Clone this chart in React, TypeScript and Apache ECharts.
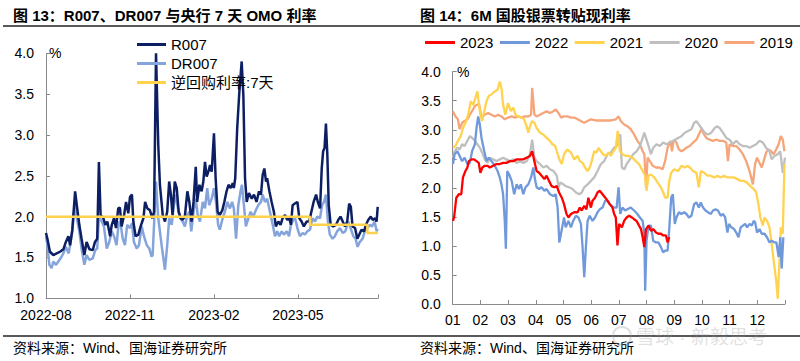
import React, { useEffect, useRef } from 'react';
import * as echarts from 'echarts';

const FONT = '"Liberation Sans", Arial, "Noto Sans CJK SC", sans-serif';

// ---------- Left chart: x = months since 2022-08-01 ----------
const LEFT_TICK_LABELS = ['2022-08', '2022-11', '2023-02', '2023-05'];
const LEFT_SERIES_NAMES = ['R007', 'DR007', '逆回购利率:7天'];

const R007: [number, number][] = [
  [0.00, 1.80], [0.05, 1.73], [0.14, 1.57], [0.26, 1.53], [0.38, 1.55], [0.50, 1.57], [0.62, 1.60],
  [0.71, 1.69], [0.80, 1.76], [0.86, 1.65], [0.94, 1.84], [1.04, 2.31], [1.10, 2.14], [1.19, 1.90],
  [1.27, 1.73], [1.37, 1.53], [1.45, 1.69], [1.55, 1.60], [1.67, 1.59], [1.75, 1.69], [1.83, 1.73],
  [1.89, 2.67], [1.95, 2.02], [2.05, 1.98], [2.12, 1.90], [2.19, 1.94], [2.29, 1.76], [2.35, 1.90],
  [2.43, 1.98], [2.50, 1.86], [2.58, 2.10], [2.64, 2.11], [2.70, 1.88], [2.79, 2.02], [2.86, 2.18],
  [2.94, 2.04], [3.00, 2.24], [3.07, 2.27], [3.12, 1.94], [3.20, 1.76], [3.30, 1.78], [3.38, 1.88],
  [3.48, 1.98], [3.54, 2.18], [3.62, 2.10], [3.71, 2.08], [3.80, 1.98], [3.86, 2.06], [3.93, 4.00],
  [4.01, 2.88], [4.07, 2.39], [4.17, 2.02], [4.25, 1.94], [4.33, 2.06], [4.40, 2.43], [4.46, 2.27],
  [4.52, 2.02], [4.60, 2.43], [4.67, 2.35], [4.74, 2.06], [4.81, 1.98], [4.88, 1.96], [4.96, 2.00],
  [5.05, 2.31], [5.12, 2.18], [5.20, 1.94], [5.27, 2.18], [5.35, 2.61], [5.40, 2.18], [5.48, 2.39],
  [5.56, 2.31], [5.62, 2.43], [5.68, 2.67], [5.74, 2.49], [5.80, 2.55], [5.86, 2.63], [5.92, 2.55],
  [6.00, 3.02], [6.06, 2.47], [6.13, 2.06], [6.21, 2.02], [6.30, 2.08], [6.37, 2.18], [6.45, 2.31],
  [6.52, 2.39], [6.60, 2.35], [6.67, 2.41], [6.71, 2.35], [6.76, 2.47], [6.83, 3.08], [6.90, 3.49],
  [6.99, 3.90], [7.05, 3.49], [7.11, 2.47], [7.17, 2.18], [7.25, 2.29], [7.35, 2.22], [7.43, 2.27],
  [7.52, 2.18], [7.61, 2.31], [7.68, 2.27], [7.74, 2.51], [7.80, 2.59], [7.86, 2.43], [7.90, 2.47],
  [7.98, 2.31], [8.06, 2.18], [8.14, 2.06], [8.21, 1.88], [8.30, 1.94], [8.38, 1.90], [8.45, 1.98],
  [8.54, 2.02], [8.62, 1.96], [8.69, 1.98], [8.75, 1.90], [8.81, 2.14], [8.89, 2.16], [8.98, 2.18],
  [9.05, 1.98], [9.13, 1.94], [9.21, 1.88], [9.31, 1.94], [9.40, 1.94], [9.48, 2.06], [9.56, 2.18],
  [9.65, 2.27], [9.71, 2.18], [9.79, 2.10], [9.85, 2.59], [9.90, 2.80], [9.95, 2.84], [10.00, 3.14],
  [10.05, 2.76], [10.10, 2.14], [10.17, 1.90], [10.26, 1.88], [10.36, 1.90], [10.44, 1.96], [10.52, 2.00],
  [10.60, 1.94], [10.68, 1.88], [10.76, 1.94], [10.83, 2.16], [10.89, 2.12], [10.95, 1.88], [11.04, 1.86],
  [11.12, 1.73], [11.19, 1.78], [11.27, 1.84], [11.36, 1.82], [11.43, 1.90], [11.51, 1.96], [11.60, 2.00],
  [11.67, 1.96], [11.75, 1.98], [11.81, 1.94], [11.85, 2.12],
];

const DR007: [number, number][] = [
  [0.00, 1.76], [0.05, 1.65], [0.12, 1.41], [0.20, 1.37], [0.26, 1.45], [0.36, 1.41], [0.44, 1.45],
  [0.52, 1.49], [0.62, 1.55], [0.71, 1.63], [0.81, 1.55], [0.88, 1.69], [0.94, 1.82], [1.02, 2.14],
  [1.10, 1.98], [1.19, 1.82], [1.27, 1.61], [1.37, 1.41], [1.45, 1.53], [1.55, 1.47], [1.67, 1.49],
  [1.76, 1.59], [1.83, 1.61], [1.89, 2.00], [1.99, 1.94], [2.07, 1.88], [2.17, 1.61], [2.26, 1.69],
  [2.35, 1.82], [2.43, 1.76], [2.52, 1.65], [2.60, 1.94], [2.67, 1.90], [2.74, 1.73], [2.82, 1.65],
  [2.90, 1.90], [3.00, 1.86], [3.07, 1.92], [3.14, 1.69], [3.24, 1.61], [3.32, 1.65], [3.42, 1.88],
  [3.50, 1.76], [3.60, 1.65], [3.69, 1.61], [3.77, 1.51], [3.81, 1.53], [3.93, 2.43], [4.01, 1.98],
  [4.13, 1.65], [4.25, 1.35], [4.33, 1.65], [4.40, 1.98], [4.49, 1.90], [4.57, 2.14], [4.64, 2.27],
  [4.73, 2.06], [4.81, 1.98], [4.88, 1.94], [4.96, 1.88], [5.05, 2.02], [5.12, 2.06], [5.19, 1.82],
  [5.27, 2.06], [5.35, 2.22], [5.42, 2.02], [5.50, 1.94], [5.60, 2.18], [5.68, 2.10], [5.76, 2.35],
  [5.83, 2.14], [5.92, 2.22], [6.00, 2.35], [6.07, 2.18], [6.15, 1.90], [6.21, 1.84], [6.31, 1.98],
  [6.39, 2.06], [6.48, 2.18], [6.57, 2.10], [6.65, 2.18], [6.71, 2.10], [6.79, 1.73], [6.87, 2.14],
  [6.95, 2.31], [7.00, 2.39], [7.07, 2.14], [7.14, 1.88], [7.23, 1.98], [7.31, 2.06], [7.40, 2.00],
  [7.50, 2.08], [7.58, 2.14], [7.68, 2.18], [7.74, 2.27], [7.82, 2.18], [7.90, 2.22], [8.00, 2.06],
  [8.10, 1.90], [8.18, 1.76], [8.26, 1.82], [8.33, 1.76], [8.42, 1.82], [8.50, 1.78], [8.60, 1.82],
  [8.68, 1.76], [8.75, 1.90], [8.83, 1.96], [8.90, 1.98], [8.98, 1.86], [9.07, 1.76], [9.17, 1.80],
  [9.25, 1.78], [9.33, 1.82], [9.43, 1.84], [9.52, 1.98], [9.61, 1.94], [9.69, 2.00], [9.79, 1.98],
  [9.86, 2.14], [9.93, 2.18], [10.00, 2.27], [10.07, 1.94], [10.14, 1.78], [10.24, 1.73], [10.32, 1.76],
  [10.40, 1.82], [10.50, 1.86], [10.60, 1.80], [10.69, 1.82], [10.80, 1.94], [10.88, 1.86], [10.98, 1.76],
  [11.06, 1.73], [11.13, 1.63], [11.21, 1.69], [11.31, 1.73], [11.39, 1.82], [11.48, 1.86], [11.57, 1.90],
  [11.65, 1.88], [11.74, 1.94], [11.81, 1.82], [11.85, 1.85],
];

const OMO7D: [number, number][] = [
  [0.00, 2.0], [9.43, 2.0], [9.43, 1.9], [11.48, 1.9], [11.48, 1.8], [11.86, 1.8],
];

// ---------- Right chart: x = month of year (1 = 1 Jan) ----------
const RIGHT_TICK_LABELS = ['01', '02', '03', '04', '05', '06', '07', '08', '09', '10', '11', '12'];
const YEARS = ['2023', '2022', '2021', '2020', '2019'];

const Y2023: [number, number][] = [
  [1.01, 1.43], [1.05, 1.49], [1.13, 1.83], [1.22, 1.89], [1.31, 1.89], [1.37, 2.18], [1.46, 2.29],
  [1.53, 2.35], [1.58, 2.46], [1.68, 2.49], [1.77, 2.49], [1.86, 2.46], [1.94, 2.43], [2.00, 2.26],
  [2.07, 2.35], [2.16, 2.38], [2.26, 2.38], [2.34, 2.35], [2.46, 2.38], [2.58, 2.41], [2.70, 2.41],
  [2.82, 2.43], [2.94, 2.43], [3.07, 2.46], [3.19, 2.46], [3.31, 2.49], [3.43, 2.49], [3.55, 2.49],
  [3.67, 2.52], [3.79, 2.55], [3.87, 2.63], [3.95, 2.46], [4.03, 2.29], [4.12, 2.26], [4.21, 2.21],
  [4.31, 2.15], [4.39, 2.21], [4.48, 2.12], [4.57, 2.03], [4.67, 2.01], [4.76, 2.03], [4.84, 1.92],
  [4.94, 1.83], [5.02, 1.72], [5.11, 1.55], [5.18, 1.49], [5.27, 1.55], [5.39, 1.58], [5.51, 1.58],
  [5.59, 1.66], [5.66, 1.61], [5.75, 1.69], [5.83, 1.63], [5.90, 1.83], [5.99, 1.66], [6.05, 1.78],
  [6.14, 1.83], [6.23, 1.92], [6.31, 1.95], [6.41, 1.89], [6.51, 1.83], [6.59, 1.78], [6.67, 1.72],
  [6.77, 1.66], [6.83, 1.55], [6.89, 1.49], [6.95, 1.01], [7.01, 1.38], [7.11, 1.32], [7.19, 1.43],
  [7.28, 1.49], [7.37, 1.52], [7.47, 1.49], [7.55, 1.46], [7.64, 1.43], [7.73, 1.35], [7.80, 1.29],
  [7.86, 1.15], [7.92, 0.98], [7.98, 1.29], [8.07, 1.35], [8.16, 1.26], [8.24, 1.29], [8.34, 1.23],
  [8.43, 1.21], [8.52, 1.21], [8.60, 1.18], [8.70, 1.18], [8.76, 1.06], [8.82, 1.15],
];

const Y2022: [number, number][] = [
  [1.01, 2.41], [1.07, 2.58], [1.17, 2.63], [1.25, 2.55], [1.34, 2.46], [1.43, 2.52], [1.53, 2.41],
  [1.62, 2.43], [1.70, 2.63], [1.80, 2.75], [1.86, 3.03], [1.92, 3.23], [1.98, 3.09], [2.04, 2.86],
  [2.14, 2.63], [2.22, 2.46], [2.30, 2.52], [2.40, 2.46], [2.52, 2.38], [2.62, 2.29], [2.70, 2.18],
  [2.76, 2.06], [2.82, 1.89], [2.88, 1.43], [2.92, 0.95], [2.97, 2.29], [3.04, 2.23], [3.13, 2.12],
  [3.22, 1.89], [3.31, 2.06], [3.39, 1.98], [3.46, 2.06], [3.55, 1.89], [3.63, 2.01], [3.73, 2.06],
  [3.83, 2.18], [3.91, 2.35], [3.97, 2.15], [4.03, 2.01], [4.12, 1.98], [4.21, 2.01], [4.31, 1.95],
  [4.39, 1.98], [4.51, 1.89], [4.64, 1.86], [4.72, 1.89], [4.79, 1.66], [4.85, 1.06], [4.91, 1.21],
  [5.02, 1.49], [5.08, 1.32], [5.18, 1.43], [5.27, 1.32], [5.35, 1.43], [5.45, 1.52], [5.54, 1.49],
  [5.63, 1.38], [5.69, 0.98], [5.75, 0.46], [5.81, 0.98], [5.87, 1.43], [5.95, 1.52], [6.05, 1.43],
  [6.14, 1.49], [6.23, 1.58], [6.31, 1.63], [6.41, 1.66], [6.51, 1.78], [6.59, 1.78], [6.67, 1.72],
  [6.75, 1.69], [6.83, 1.66], [6.92, 1.66], [6.99, 2.01], [7.05, 1.55], [7.13, 1.66], [7.23, 1.61],
  [7.31, 1.63], [7.43, 1.66], [7.55, 1.61], [7.67, 1.55], [7.76, 1.49], [7.86, 1.43], [7.92, 1.21],
  [7.95, 0.23], [8.00, 1.09], [8.07, 1.35], [8.16, 1.35], [8.24, 1.09], [8.34, 1.06], [8.43, 1.06],
  [8.52, 0.98], [8.60, 0.89], [8.67, 0.92], [8.76, 0.92], [8.82, 1.29], [8.89, 1.83], [8.95, 1.89],
  [9.02, 1.38], [9.08, 1.49], [9.17, 1.58], [9.26, 1.55], [9.36, 1.58], [9.44, 1.55], [9.53, 1.49],
  [9.62, 1.52], [9.72, 1.72], [9.80, 1.75], [9.89, 1.66], [9.96, 1.75], [10.04, 1.66], [10.13, 1.61],
  [10.22, 1.58], [10.32, 1.55], [10.40, 1.61], [10.49, 1.63], [10.58, 1.61], [10.68, 1.52], [10.76, 1.55],
  [10.84, 1.49], [10.92, 1.23], [10.98, 1.38], [11.06, 1.32], [11.16, 1.29], [11.24, 1.23], [11.32, 1.15],
  [11.40, 1.32], [11.48, 1.35], [11.56, 1.38], [11.63, 1.32], [11.72, 1.38], [11.80, 1.35], [11.87, 1.43],
  [11.92, 1.41], [11.99, 1.23], [12.08, 1.29], [12.16, 1.21], [12.26, 1.21], [12.35, 1.15], [12.44, 1.06],
  [12.52, 1.09], [12.62, 1.06], [12.69, 1.06], [12.77, 0.81], [12.83, 1.15], [12.88, 0.61], [12.94, 1.15],
];

const Y2021: [number, number][] = [
  [1.01, 2.69], [1.10, 2.72], [1.19, 2.81], [1.29, 2.89], [1.37, 3.03], [1.46, 3.12], [1.56, 3.26],
  [1.65, 3.49], [1.74, 3.43], [1.82, 3.55], [1.89, 3.66], [1.98, 3.32], [2.06, 3.15], [2.14, 3.32],
  [2.22, 3.49], [2.30, 3.58], [2.40, 3.61], [2.52, 3.66], [2.62, 3.69], [2.70, 3.83], [2.76, 3.72],
  [2.82, 3.43], [2.90, 3.26], [3.00, 3.46], [3.10, 3.32], [3.19, 3.38], [3.27, 3.26], [3.37, 3.23],
  [3.49, 3.21], [3.58, 3.18], [3.67, 3.06], [3.73, 2.95], [3.79, 3.06], [3.87, 3.15], [3.95, 3.12],
  [4.03, 3.03], [4.15, 2.95], [4.27, 2.92], [4.39, 2.86], [4.51, 2.81], [4.60, 2.75], [4.70, 2.72],
  [4.79, 2.58], [4.88, 2.46], [4.94, 2.41], [5.02, 2.58], [5.14, 2.66], [5.27, 2.61], [5.39, 2.49],
  [5.51, 2.55], [5.59, 2.46], [5.69, 2.43], [5.78, 2.35], [5.87, 2.29], [5.95, 2.35], [6.02, 2.46],
  [6.11, 2.63], [6.19, 2.61], [6.27, 2.69], [6.35, 2.63], [6.43, 2.58], [6.53, 2.55], [6.63, 2.61],
  [6.71, 2.55], [6.80, 2.63], [6.89, 2.69], [6.96, 2.98], [7.04, 2.63], [7.13, 2.58], [7.25, 2.55],
  [7.37, 2.55], [7.49, 2.52], [7.61, 2.46], [7.73, 2.41], [7.86, 2.29], [7.95, 2.21], [8.00, 1.95],
  [8.07, 2.21], [8.16, 2.23], [8.28, 2.18], [8.40, 2.09], [8.52, 2.01], [8.60, 1.92], [8.67, 1.83],
  [8.76, 1.83], [8.82, 2.12], [8.89, 2.26], [9.00, 2.32], [9.14, 2.29], [9.26, 2.38], [9.38, 2.35],
  [9.48, 2.38], [9.56, 2.35], [9.68, 2.29], [9.80, 2.26], [9.89, 2.01], [9.96, 2.29], [10.08, 2.26],
  [10.20, 2.21], [10.32, 2.21], [10.44, 2.18], [10.56, 2.21], [10.68, 2.18], [10.80, 2.21], [10.92, 2.18],
  [11.04, 2.18], [11.16, 2.18], [11.28, 2.15], [11.40, 2.12], [11.51, 2.12], [11.63, 2.09], [11.75, 2.03],
  [11.87, 1.98], [11.96, 1.92], [12.04, 1.72], [12.11, 1.49], [12.20, 1.35], [12.26, 1.49], [12.35, 1.43],
  [12.44, 1.32], [12.52, 1.03], [12.59, 0.75], [12.68, 0.41], [12.74, 0.09], [12.80, 0.75], [12.85, 1.32],
  [12.92, 1.21], [12.98, 2.41],
];

const Y2020: [number, number][] = [
  [1.01, 2.52], [1.07, 2.63], [1.17, 2.69], [1.25, 2.66], [1.34, 2.75], [1.43, 2.72], [1.53, 2.81],
  [1.62, 2.89], [1.70, 2.86], [1.80, 2.81], [1.89, 2.75], [1.98, 2.69], [2.06, 2.61], [2.16, 2.49],
  [2.26, 2.43], [2.34, 2.52], [2.46, 2.49], [2.58, 2.46], [2.70, 2.49], [2.82, 2.52], [2.94, 2.49],
  [3.07, 2.46], [3.19, 2.49], [3.31, 2.43], [3.43, 2.46], [3.55, 2.43], [3.67, 2.46], [3.79, 2.58],
  [3.87, 2.83], [3.95, 2.52], [4.03, 2.46], [4.15, 2.41], [4.27, 2.35], [4.39, 2.38], [4.51, 2.32],
  [4.64, 2.29], [4.76, 2.21], [4.82, 2.01], [4.88, 2.09], [5.00, 2.06], [5.08, 2.03], [5.20, 2.01],
  [5.33, 1.98], [5.45, 1.92], [5.57, 1.89], [5.66, 1.92], [5.75, 2.01], [5.87, 2.06], [5.99, 2.12],
  [6.11, 2.18], [6.23, 2.29], [6.35, 2.41], [6.47, 2.46], [6.59, 2.58], [6.71, 2.61], [6.83, 2.69],
  [6.92, 2.72], [6.99, 2.86], [7.05, 2.92], [7.11, 2.35], [7.20, 2.32], [7.28, 2.41], [7.40, 2.49],
  [7.52, 2.58], [7.64, 2.63], [7.76, 2.72], [7.84, 2.83], [7.92, 2.95], [8.00, 2.83], [8.09, 2.69],
  [8.16, 2.58], [8.24, 2.69], [8.36, 2.75], [8.48, 2.72], [8.60, 2.78], [8.72, 2.75], [8.84, 2.78],
  [8.96, 2.81], [9.14, 2.86], [9.26, 2.89], [9.38, 2.95], [9.50, 2.98], [9.62, 3.01], [9.72, 3.12],
  [9.80, 3.15], [9.89, 3.09], [9.98, 3.03], [10.10, 2.95], [10.22, 2.92], [10.34, 2.95], [10.46, 3.03],
  [10.56, 3.06], [10.64, 3.03], [10.76, 2.95], [10.88, 2.86], [11.00, 2.83], [11.12, 2.75], [11.24, 2.81],
  [11.36, 2.75], [11.48, 2.72], [11.60, 2.72], [11.72, 2.69], [11.84, 2.72], [11.96, 2.75], [12.08, 2.81],
  [12.20, 2.78], [12.32, 2.69], [12.44, 2.63], [12.52, 2.49], [12.62, 2.55], [12.74, 2.58], [12.83, 2.63],
  [12.92, 2.26], [13.00, 2.52],
];

const Y2019: [number, number][] = [
  [1.01, 3.32], [1.10, 3.23], [1.19, 3.18], [1.25, 3.01], [1.34, 3.12], [1.43, 3.15], [1.53, 3.18],
  [1.62, 3.26], [1.70, 3.32], [1.80, 3.41], [1.89, 3.43], [1.95, 3.45], [2.04, 3.21], [2.16, 3.26],
  [2.28, 3.29], [2.40, 3.26], [2.52, 3.23], [2.64, 3.26], [2.76, 3.23], [2.88, 3.18], [3.00, 3.21],
  [3.13, 3.23], [3.25, 3.21], [3.37, 3.23], [3.49, 3.21], [3.61, 3.23], [3.73, 3.23], [3.83, 3.26],
  [3.87, 3.72], [3.95, 3.26], [4.03, 3.23], [4.15, 3.26], [4.27, 3.29], [4.39, 3.32], [4.51, 3.29],
  [4.64, 3.32], [4.72, 3.35], [4.82, 3.29], [4.91, 3.21], [5.02, 3.23], [5.14, 3.23], [5.27, 3.21],
  [5.39, 3.21], [5.51, 3.18], [5.63, 3.15], [5.75, 3.12], [5.87, 3.15], [5.99, 3.18], [6.17, 3.16],
  [6.35, 3.16], [6.53, 3.16], [6.71, 3.16], [6.89, 3.18], [6.99, 3.23], [7.07, 3.15], [7.19, 3.09],
  [7.31, 3.06], [7.43, 3.01], [7.55, 2.92], [7.67, 2.81], [7.76, 2.75], [7.86, 2.63], [7.92, 2.58],
  [7.98, 2.01], [8.04, 2.52], [8.12, 2.46], [8.22, 2.38], [8.34, 2.35], [8.46, 2.35], [8.58, 2.32],
  [8.67, 2.46], [8.76, 2.69], [8.86, 2.81], [8.92, 2.63], [8.97, 2.81], [9.02, 2.81], [9.08, 2.78],
  [9.17, 2.66], [9.26, 2.63], [9.36, 2.66], [9.44, 2.69], [9.56, 2.72], [9.68, 2.78], [9.80, 2.83],
  [9.92, 2.95], [9.98, 3.01], [10.08, 2.92], [10.16, 2.86], [10.28, 2.83], [10.40, 2.81], [10.52, 2.83],
  [10.64, 2.81], [10.76, 2.81], [10.88, 2.78], [10.94, 2.46], [11.00, 2.75], [11.12, 2.72], [11.24, 2.72],
  [11.36, 2.66], [11.48, 2.58], [11.60, 2.46], [11.72, 2.29], [11.84, 2.06], [11.92, 2.41], [11.99, 2.52],
  [12.08, 2.43], [12.16, 2.35], [12.23, 2.46], [12.32, 2.61], [12.40, 2.66], [12.50, 2.63], [12.59, 2.58],
  [12.68, 2.66], [12.77, 2.75], [12.85, 2.89], [12.92, 2.83], [12.98, 2.63],
];

const TITLE_LEFT = '图 13：R007、DR007 与央行 7 天 OMO 利率';
const TITLE_RIGHT = '图 14：6M 国股银票转贴现利率';
const SOURCE = '资料来源：Wind、国海证券研究所';
const WATERMARK = '雪球 · 新毅思考';

const AXIS_COLOR = '#8a8a8a';

export default function App() {
  const ref = useRef<HTMLDivElement>(null);

  useEffect(() => {
    if (!ref.current) return;
    const chart = echarts.init(ref.current, null, { renderer: 'svg' });

    const axisCommon = {
      axisLine: { show: true, lineStyle: { color: AXIS_COLOR, width: 1 } },
      axisTick: { show: true, inside: true, length: 4, lineStyle: { color: AXIS_COLOR } },
      splitLine: { show: false },
    };

    const yearColors = ['#FF0000', '#7099DC', '#FFD350', '#BFBFBF', '#F6A57A'];
    const yearData = [Y2023, Y2022, Y2021, Y2020, Y2019];

    const option: any = {
      animation: false,
      backgroundColor: '#ffffff',
      textStyle: { fontFamily: FONT },
      grid: [
        { left: 46, top: 53.3, width: 332, height: 245 },
        { left: 452.7, top: 71.7, width: 332.3, height: 232.3 },
      ],
      xAxis: [
        {
          type: 'value', gridIndex: 0, min: 0, max: 11.86, interval: 3,
          ...axisCommon,
          axisLabel: {
            fontSize: 14, color: '#000', margin: 10, fontFamily: FONT,
            formatter: (v: number) => {
              const i = Math.round(v / 3);
              return Math.abs(v - i * 3) < 1e-6 ? (LEFT_TICK_LABELS[i] ?? '') : '';
            },
          },
        },
        {
          type: 'value', gridIndex: 1, min: 1, max: 13, interval: 1,
          ...axisCommon,
          axisLabel: {
            fontSize: 14, color: '#000', margin: 9, fontFamily: FONT,
            formatter: (v: number) => RIGHT_TICK_LABELS[Math.round(v) - 1] ?? '',
          },
        },
      ],
      yAxis: [
        {
          type: 'value', gridIndex: 0, min: 1, max: 4, interval: 0.5,
          ...axisCommon,
          axisLabel: { fontSize: 14, color: '#000', margin: 12, fontFamily: FONT, formatter: (v: number) => v.toFixed(1) },
        },
        {
          type: 'value', gridIndex: 1, min: 0, max: 4, interval: 0.5,
          ...axisCommon,
          axisLabel: { fontSize: 14, color: '#000', margin: 12, fontFamily: FONT, formatter: (v: number) => v.toFixed(1) },
        },
      ],
      legend: [
        {
          data: LEFT_SERIES_NAMES, orient: 'vertical', left: 137, top: 37, padding: 0,
          icon: 'rect', itemWidth: 29, itemHeight: 3, itemGap: 4,
          textStyle: { fontSize: 15, color: '#000', fontFamily: FONT },
        },
        {
          data: YEARS, orient: 'horizontal', left: 425, top: 35, padding: 0,
          icon: 'rect', itemWidth: 30, itemHeight: 3, itemGap: 6.5,
          textStyle: { fontSize: 15, color: '#000', fontFamily: FONT },
        },
      ],
      series: [
        {
          name: LEFT_SERIES_NAMES[1], type: 'line', xAxisIndex: 0, yAxisIndex: 0, data: DR007,
          symbol: 'none', lineStyle: { color: '#86A4DC', width: 2.5 }, itemStyle: { color: '#86A4DC' }, z: 2,
        },
        {
          name: LEFT_SERIES_NAMES[0], type: 'line', xAxisIndex: 0, yAxisIndex: 0, data: R007,
          symbol: 'none', lineStyle: { color: '#0D1F63', width: 2.5 }, itemStyle: { color: '#0D1F63' }, z: 3,
        },
        {
          name: LEFT_SERIES_NAMES[2], type: 'line', xAxisIndex: 0, yAxisIndex: 0, data: OMO7D,
          symbol: 'none', lineStyle: { color: '#FFD24D', width: 2.5 }, itemStyle: { color: '#FFD24D' }, z: 4,
        },
        ...YEARS.map((y, i) => ({
          name: y, type: 'line', xAxisIndex: 1, yAxisIndex: 1, data: yearData[i],
          symbol: 'none', lineStyle: { color: yearColors[i], width: 2.3 }, itemStyle: { color: yearColors[i] },
          z: 10 - i,
        })),
      ],
      graphic: [
        { type: 'text', left: 13, top: 8, style: { text: TITLE_LEFT, fontSize: 15, fontWeight: 'bold', fill: '#000', fontFamily: FONT } },
        { type: 'text', left: 420, top: 8, style: { text: TITLE_RIGHT, fontSize: 15, fontWeight: 'bold', fill: '#000', fontFamily: FONT } },
        { type: 'line', shape: { x1: 3, y1: 26, x2: 800, y2: 26 }, style: { stroke: '#222', lineWidth: 1.5 } },
        { type: 'line', shape: { x1: 3, y1: 336, x2: 800, y2: 336 }, style: { stroke: '#222', lineWidth: 1.5 } },
        { type: 'text', left: 13, top: 341, style: { text: SOURCE, fontSize: 14, fill: '#000', fontFamily: FONT } },
        { type: 'text', left: 420, top: 341, style: { text: SOURCE, fontSize: 14, fill: '#000', fontFamily: FONT } },
        { type: 'text', left: 49, top: 46, style: { text: '%', fontSize: 14, fill: '#000', fontFamily: FONT } },
        { type: 'text', left: 457, top: 65, style: { text: '%', fontSize: 14, fill: '#000', fontFamily: FONT } },
        { type: 'circle', shape: { cx: 622, cy: 336, r: 9 }, style: { fill: 'none', stroke: 'rgba(150,150,150,0.3)', lineWidth: 2 } },
        { type: 'text', left: 636, top: 328, style: { text: WATERMARK, fontSize: 19, fill: 'rgba(150,150,150,0.3)', fontFamily: FONT } },
      ],
    };

    chart.setOption(option);
    return () => chart.dispose();
  }, []);

  return <div ref={ref} style={{ position: 'absolute', left: 0, top: 0, width: 800, height: 361 }} />;
}
